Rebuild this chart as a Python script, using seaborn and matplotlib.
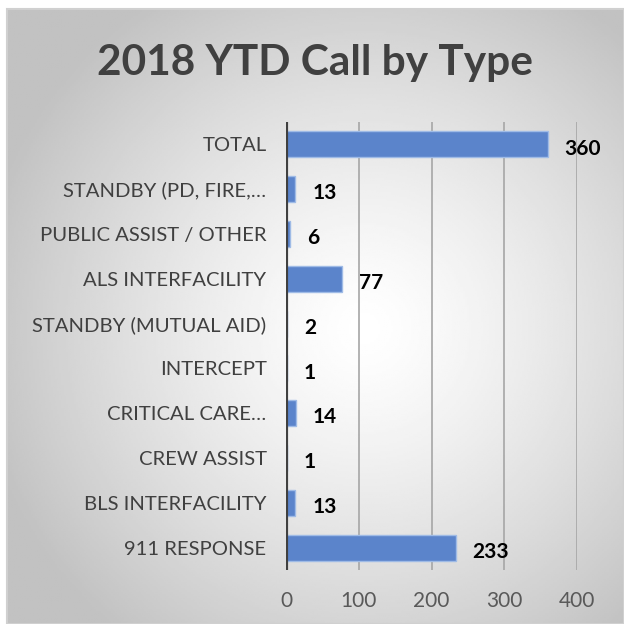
import numpy as np
import pandas as pd
import matplotlib
matplotlib.use("Agg")
from matplotlib import pyplot as plt
from matplotlib.patches import Rectangle
import seaborn as sns

# data
categories = ["TOTAL", "STANDBY (PD, FIRE,\u2026", "PUBLIC ASSIST / OTHER",
              "ALS INTERFACILITY", "STANDBY (MUTUAL AID)", "INTERCEPT",
              "CRITICAL CARE\u2026", "CREW ASSIST", "BLS INTERFACILITY",
              "911 RESPONSE"]
calls = [360, 13, 6, 77, 2, 1, 14, 1, 13, 233]
x_ticks = [0, 100, 200, 300, 400]

df = pd.DataFrame({"type": categories, "calls": calls})

sns.set_theme(style="white")
plt.rcParams["font.family"] = ["Lato", "DejaVu Sans"]

W = 624
fig = plt.figure(figsize=(6.24, 6.24), dpi=100)
fig.patch.set_facecolor("white")

# gradient panel behind chart
px0, py_top = 7 / W, 9 / W
bg = fig.add_axes([px0, 0, 1 - px0, 1 - py_top])
yy, xx = np.mgrid[0:1:300j, 0:1:300j]
r = np.sqrt(((xx - 0.58) / 0.75) ** 2 + ((yy - 0.52) / 0.75) ** 2)
shade = 1 - 0.24 * np.clip(r / 0.85, 0, 1) ** 1.3
bg.imshow(shade, cmap="gray", vmin=0, vmax=1, extent=[0, 1, 0, 1],
          origin="upper", aspect="auto")
bg.set_axis_off()
fig.add_artist(Rectangle((px0, 0), 1 - px0, 1 - py_top, transform=fig.transFigure,
                         fill=False, edgecolor="#d0d0d0", linewidth=1.5))

ax = fig.add_axes([286 / W, 1 - 570 / W, (577 - 286) / W, (570 - 122) / W])
ax.patch.set_alpha(0)
sns.barplot(data=df, x="calls", y="type", orient="h", ax=ax,
            color="#5B84CB", edgecolor="#9fbbe6", linewidth=1, width=0.58,
            saturation=1)

ax.set_xlim(0, 400)
ax.set_xticks(x_ticks)
for v in x_ticks[1:]:
    ax.axvline(v, color="#a6a6a6", linewidth=1.2, zorder=0)
ax.axvline(0, color="#404040", linewidth=3, zorder=3)

for s in ax.spines.values():
    s.set_visible(False)
ax.set_xlabel("")
ax.set_ylabel("")
ax.tick_params(axis="y", length=0, pad=14, labelsize=14.6, labelcolor="#404040")
ax.tick_params(axis="x", length=0, pad=15, labelsize=15, labelcolor="#595959")

# value labels, a little below the bar centre
for i, v in enumerate(calls):
    ax.annotate(str(v), (v, i), xytext=(12, -3), textcoords="offset points",
                ha="left", va="center", fontsize=15, fontweight="bold",
                color="black")

fig.text(315 / W, 1 - 63 / W, "2018 YTD Call by Type", ha="center", va="center",
         fontsize=30.5, fontweight="bold", color="#404040")

fig.savefig("out.png", dpi=100)
